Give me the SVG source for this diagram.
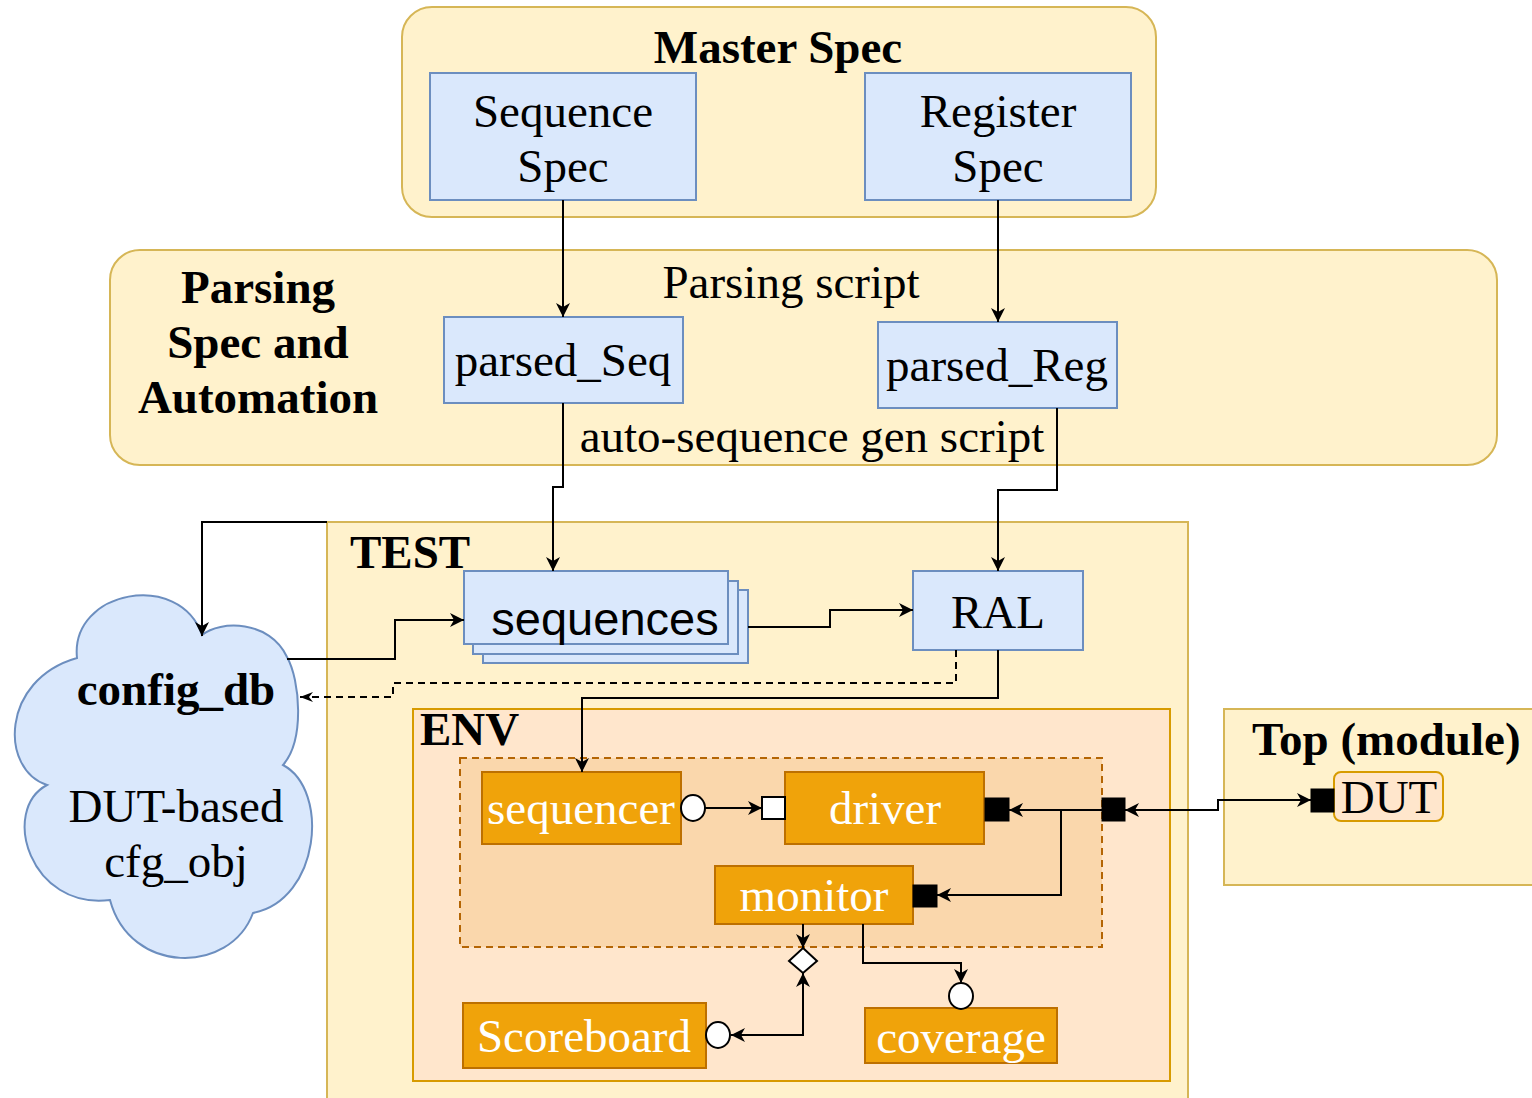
<svg xmlns="http://www.w3.org/2000/svg" width="1532" height="1098" viewBox="0 0 1532 1098">
<style>
.cont{fill:#fff2cc;stroke:#d6b656;stroke-width:2}
.blue{fill:#dae8fc;stroke:#6c8ebf;stroke-width:2}
.env{fill:#ffe6cc;stroke:#d79b00;stroke-width:2}
.inner{fill:#fad7ac;stroke:#b46504;stroke-width:2;stroke-dasharray:7 5}
.org{fill:#f0a30a;stroke:#bd7000;stroke-width:2}
.t{font-family:"Liberation Serif","Times New Roman",serif;font-size:47px;fill:#000}
.b{font-weight:bold}
.w{fill:#fff}
.s{font-family:"Liberation Sans",Arial,sans-serif}
.c{text-anchor:middle}
.ln{fill:none;stroke:#000;stroke-width:2}
.dash{stroke-dasharray:7 5}
.port{fill:#000;stroke:#000;stroke-width:1}
.hol{fill:#fff;stroke:#000;stroke-width:2}
</style>
<defs>
<marker id="arr" markerWidth="16" markerHeight="14" refX="14" refY="7" orient="auto-start-reverse" markerUnits="userSpaceOnUse"><path d="M0,0 L14,7 L0,14 L4,7 Z" fill="#000"/></marker>
<marker id="thin" markerWidth="14" markerHeight="10" refX="13" refY="5" orient="auto" markerUnits="userSpaceOnUse"><path d="M0,0 L13,5 L0,10 L4,5 Z" fill="#000"/></marker>
</defs>

<g id="master-spec">
<rect class="cont" x="402" y="7" width="754" height="210" rx="30"/>
<text class="t b c" x="778" y="63">Master Spec</text>
</g>
<g id="sequence-spec">
<rect class="blue" x="430" y="73" width="266" height="127"/>
<text class="t c" x="563" y="127">Sequence</text>
<text class="t c" x="563" y="182">Spec</text>
</g>
<g id="register-spec">
<rect class="blue" x="865" y="73" width="266" height="127"/>
<text class="t c" x="998" y="127">Register</text>
<text class="t c" x="998" y="182">Spec</text>
</g>

<g id="parsing">
<rect class="cont" x="110" y="250" width="1387" height="215" rx="30"/>
<text class="t b c" x="258" y="303">Parsing</text>
<text class="t b c" x="258" y="358">Spec and</text>
<text class="t b c" x="258" y="413">Automation</text>
<text class="t c" x="791" y="298">Parsing script</text>
<text class="t c" x="812" y="452">auto-sequence gen script</text>
</g>
<g id="parsed-seq">
<rect class="blue" x="444" y="317" width="239" height="86"/>
<text class="t c" x="563" y="376">parsed_Seq</text>
</g>
<g id="parsed-reg">
<rect class="blue" x="878" y="322" width="239" height="86"/>
<text class="t c" x="997" y="381">parsed_Reg</text>
</g>

<g id="test">
<rect class="cont" x="327" y="522" width="861" height="600"/>
<text class="t b" x="350" y="568">TEST</text>
</g>
<g id="sequences">
<rect class="blue" x="483" y="590" width="265" height="73"/>
<rect class="blue" x="473" y="581" width="265" height="73"/>
<rect class="blue" x="464" y="571" width="264" height="73"/>
<text class="t s c" x="605" y="635">sequences</text>
</g>
<g id="ral">
<rect class="blue" x="913" y="571" width="170" height="79"/>
<text class="t c" x="998" y="628">RAL</text>
</g>

<g id="config-db">
<path class="blue" d="M77,658 C70,590 180,570 202,635 C220,620 270,620 287,657 C300,680 305,740 283,765 C330,790 320,900 253,913 C230,975 130,975 110,900 C30,910 0,810 47,785 C0,770 0,680 77,658 Z"/>
<text class="t b c" x="176" y="705">config_db</text>
<text class="t c" x="176" y="822">DUT-based</text>
<text class="t c" x="176" y="877">cfg_obj</text>
</g>

<g id="env">
<rect class="env" x="413" y="709" width="757" height="372"/>
<text class="t b" x="420" y="745">ENV</text>
<rect class="inner" x="460" y="758" width="642" height="189"/>
</g>
<g id="sequencer">
<rect class="org" x="482" y="772" width="199" height="72"/>
<text class="t w c" x="581" y="824">sequencer</text>
</g>
<g id="driver">
<rect class="org" x="785" y="772" width="199" height="72"/>
<text class="t w c" x="885" y="824">driver</text>
</g>
<g id="monitor">
<rect class="org" x="715" y="866" width="198" height="58"/>
<text class="t w c" x="814" y="911">monitor</text>
</g>
<g id="scoreboard">
<rect class="org" x="463" y="1003" width="243" height="65"/>
<text class="t w c" x="584" y="1052">Scoreboard</text>
</g>
<g id="coverage">
<rect class="org" x="865" y="1008" width="192" height="55"/>
<text class="t w c" x="961" y="1053">coverage</text>
</g>

<g id="top-module">
<rect class="cont" x="1224" y="709" width="330" height="176"/>
<text class="t b" x="1252" y="755">Top (module)</text>
</g>
<g id="dut">
<rect class="env" x="1334" y="772" width="109" height="49" rx="7"/>
<text class="t c" x="1389" y="813">DUT</text>
</g>

<g id="connectors">
<path class="ln" d="M563,200 V317" marker-end="url(#arr)"/>
<path class="ln" d="M998,200 V322" marker-end="url(#arr)"/>
<path class="ln" d="M563,403 V487 H553 V571" marker-end="url(#arr)"/>
<path class="ln" d="M1057,408 V490 H998 V571" marker-end="url(#arr)"/>
<path class="ln" d="M327,522 H202 V636" marker-end="url(#arr)"/>
<path class="ln" d="M287,659 H395 V620 H464" marker-end="url(#arr)"/>
<path class="ln" d="M748,627 H830 V610 H913" marker-end="url(#arr)"/>
<path class="ln dash" d="M956,650 V683 H393 V697 H300" marker-end="url(#thin)"/>
<path class="ln" d="M998,650 V698 H582 V772" marker-end="url(#arr)"/>
<path class="ln" d="M705,808 H762" marker-end="url(#arr)"/>
<path class="ln" d="M1102,810 H1009" marker-end="url(#arr)"/>
<path class="ln" d="M1061,810 V895 H937" marker-end="url(#arr)"/>
<path class="ln" d="M803,924 V948" marker-end="url(#arr)"/>
<path class="ln" d="M731,1035 H803 V973" marker-start="url(#arr)" marker-end="url(#arr)"/>
<path class="ln" d="M863,924 V963 H961 V983" marker-end="url(#arr)"/>
<path class="ln" d="M1125,810 H1218 V800 H1311" marker-start="url(#arr)" marker-end="url(#arr)"/>
<ellipse class="hol" cx="693" cy="808" rx="12" ry="13"/>
<rect class="hol" x="762" y="797" width="23" height="22"/>
<rect class="port" x="985" y="798" width="24" height="23"/>
<rect class="port" x="1102" y="798" width="23" height="23"/>
<rect class="port" x="913" y="885" width="24" height="22"/>
<path class="hol" d="M803,948 L817,961 L803,973 L789,961 Z"/>
<ellipse class="hol" cx="718" cy="1035" rx="12" ry="13"/>
<ellipse class="hol" cx="961" cy="996" rx="12" ry="13"/>
<rect class="port" x="1311" y="789" width="23" height="23"/>
</g>
</svg>
